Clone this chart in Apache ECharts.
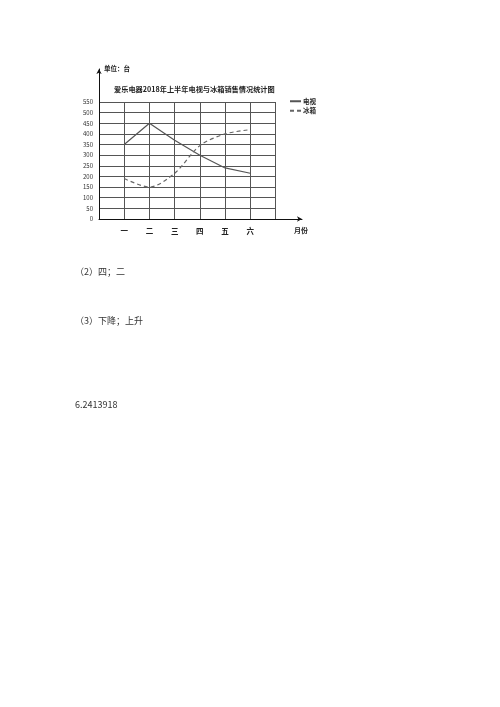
<!DOCTYPE html>
<html><head><meta charset="utf-8">
<script src="https://cdn.jsdelivr.net/npm/echarts@6/dist/echarts.min.js"></script>
<style>html,body{margin:0;padding:0;background:#fff}#c{width:500px;height:707px}</style>
</head><body><div id="c"></div>
<script>
const months = ['一','二','三','四','五','六'];
const tvSales = [350, 450, 370, 300, 240, 215];
const fridgeSales = [190, 150, 215, 345, 400, 420];
const yTicks = {min: 0, max: 550, interval: 50};
const chartTitle = '爱乐电器2018年上半年电视与冰箱销售情况统计图';
const answerLines = ['（2）四；二', '（3）下降；上升', '6.2413918'];

const cats = [''].concat(months, ['']);
const pad = arr => [null].concat(arr, [null]);
const gridColor = '#555';
const chart = echarts.init(document.getElementById('c'));
chart.setOption({
  animation: false,
  backgroundColor: '#fff',
  textStyle: {fontFamily: 'Noto Sans CJK SC'},
  title: {text: chartTitle, left: 109, top: 81,
    textStyle: {fontSize: 7.2, fontWeight: 'bold', color: '#222'}},
  legend: {orient: 'vertical', left: 284, top: 93, itemWidth: 11, itemHeight: 6, itemGap: 3,
    itemStyle: {opacity: 0},
    textStyle: {fontSize: 6.5, fontWeight: 'bold', color: '#222', padding: [0,0,0,-3]},
    data: ['电视', '冰箱']},
  grid: [
    {left: 99, top: 102, width: 176.5, height: 117},
    {left: 99, top: 69, width: 203, height: 150}
  ],
  xAxis: [
    {type: 'category', gridIndex: 0, data: cats, boundaryGap: false,
      axisLine: {show: false}, axisTick: {show: false},
      axisLabel: {interval: 0, fontSize: 7.5, fontWeight: 'bold', color: '#222', margin: 8},
      splitLine: {show: true, interval: 0, lineStyle: {color: gridColor, width: 1}}},
    {type: 'value', gridIndex: 1, min: 0, max: 1,
      axisLine: {show: true, symbol: ['none', 'arrow'], symbolSize: [4, 5], lineStyle: {color: '#111', width: 1}},
      axisTick: {show: false}, axisLabel: {show: false}, splitLine: {show: false},
      name: '月份', nameLocation: 'end', nameGap: -1,
      nameTextStyle: {fontSize: 7, fontWeight: 'bold', color: '#222', align: 'center', verticalAlign: 'top', padding: [8,0,0,0]}}
  ],
  yAxis: [
    {type: 'value', gridIndex: 0, min: yTicks.min, max: yTicks.max, interval: yTicks.interval,
      axisLine: {show: false}, axisTick: {show: false},
      axisLabel: {fontSize: 6, color: '#333', margin: 6},
      splitLine: {show: true, lineStyle: {color: gridColor, width: 1}}},
    {type: 'value', gridIndex: 1, min: 0, max: 1,
      axisLine: {show: true, symbol: ['none', 'arrow'], symbolSize: [4, 5], lineStyle: {color: '#111', width: 1}},
      axisTick: {show: false}, axisLabel: {show: false}, splitLine: {show: false},
      name: '单位：台', nameLocation: 'end', nameGap: 0,
      nameTextStyle: {fontSize: 6.5, fontWeight: 'bold', color: '#222', align: 'left', verticalAlign: 'middle', padding: [0,0,0,5]}}
  ],
  series: [
    {name: '电视', type: 'line', xAxisIndex: 0, yAxisIndex: 0, data: pad(tvSales),
      symbol: 'none', lineStyle: {color: '#555', width: 1.2, type: 'solid'}, itemStyle: {color: '#555'}},
    {name: '冰箱', type: 'line', xAxisIndex: 0, yAxisIndex: 0, data: pad(fridgeSales), smooth: 0.3,
      symbol: 'none', lineStyle: {color: '#666', width: 1.2, type: [4, 3]}, itemStyle: {color: '#666'}}
  ],
  graphic: answerLines.map((t, i) => ({
    type: 'text', left: 75, top: [267, 316, 400][i],
    style: {text: t, fontSize: 9, fill: '#333', fontFamily: 'Noto Sans CJK SC'}
  }))
});
</script></body></html>
